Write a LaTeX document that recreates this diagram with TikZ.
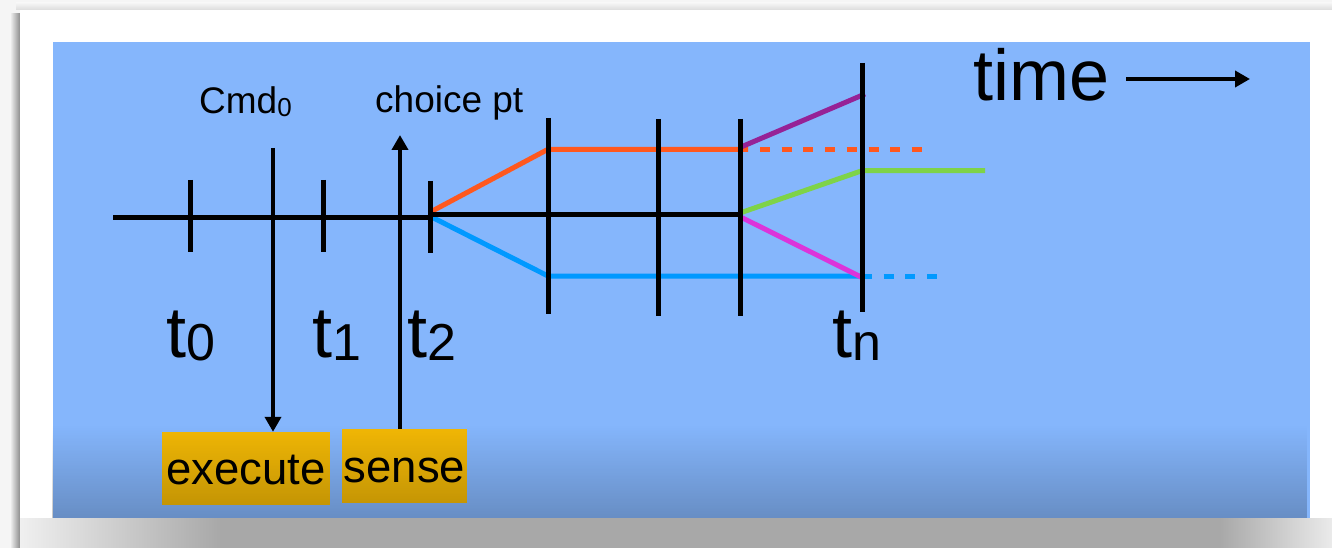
\documentclass[tikz,border=0pt]{standalone}
\usepackage{fontspec}
\setmainfont{Liberation Sans}
\usetikzlibrary{fadings,arrows.meta}
\newcommand\myfs[1]{\fontsize{#1}{#1}\selectfont}
\newcommand\tsub[2]{{\myfs{#1}\raisebox{-3pt}{#2}}}
\definecolor{bg}{RGB}{133,182,252}
\definecolor{gold}{RGB}{242,184,6}
\definecolor{cor}{RGB}{255,88,30}
\definecolor{cbl}{RGB}{0,153,255}
\definecolor{cpu}{RGB}{150,34,150}
\definecolor{cgr}{RGB}{126,211,72}
\definecolor{cmg}{RGB}{220,52,218}
\tikzfading[name=fadedown, top color=transparent!100, bottom color=transparent!0]
\begin{document}
\begin{tikzpicture}[x=1pt,y=-1pt,
  blk/.style={line width=5pt, black},
  col/.style={line width=5pt},
  dsh/.style={line width=5pt, dash pattern=on 10pt off 11.7pt},
  lbl/.style={inner sep=0pt, anchor=base west},
  box/.style={fill=gold, inner sep=0pt, text height=32pt, text depth=0pt, font=\myfs{45.5}},
  arr/.style={line width=4.5pt, -{Triangle[length=15pt,width=16pt]}}]
\useasboundingbox (0,0) rectangle (1332,548);
% page background and panel with shadows
\fill[black!4] (0,0) rectangle (1332,548);
\shade[left color=black!4, right color=black!45] (10,14) rectangle (20,548);
\shade[top color=black!4, bottom color=black!14] (16,3) rectangle (1332,10);
\fill[white] (20,10) rectangle (1332,548);
% reflection band under the slide
\shade[left color=black!6, right color=black!34] (20,518) rectangle (220,548);
\fill[black!34] (220,518) rectangle (1220,548);
\shade[left color=black!34, right color=black!8] (1220,518) rectangle (1332,548);
% slide area
\fill[bg] (53,42) rectangle (1310,518);

% coordinates of the timeline
\coordinate (m0) at (113,217);
\coordinate (t2m) at (430,217);
\coordinate (br) at (431,214);
\coordinate (v3m) at (740,214);
\coordinate (a1t) at (190,180); \coordinate (a1b) at (190,252);
\coordinate (a2t) at (323,180); \coordinate (a2b) at (323,252);
\coordinate (a3t) at (430,181); \coordinate (a3b) at (430,253);
\coordinate (v1t) at (548,118); \coordinate (v1b) at (548,314);
\coordinate (v2t) at (658,119); \coordinate (v2b) at (658,316);
\coordinate (v3t) at (740,119); \coordinate (v3b) at (740,316);
\coordinate (vnt) at (862,63);  \coordinate (vnb) at (862,312);
\coordinate (oA) at (431,211.7); \coordinate (oB) at (548,149.3); \coordinate (oC) at (748,149.3);
\coordinate (oD) at (760,149.3); \coordinate (oE) at (923,149.3);
\coordinate (bA) at (431,216.7); \coordinate (bB) at (548,276); \coordinate (bC) at (862,276);
\coordinate (bE) at (937,276);
\coordinate (pA) at (741,147); \coordinate (pB) at (865,94);
\coordinate (gA) at (740,213); \coordinate (gB) at (862,170.7); \coordinate (gC) at (985,170.7);
\coordinate (mA) at (740,216.7); \coordinate (mB) at (862,277.5);
\coordinate (cmdtop) at (273,148);
\coordinate (snsx) at (400,135);
\coordinate (tas) at (1126,79); \coordinate (tae) at (1250,79);

% coloured branches
\draw[col, cor] (oA) -- (oB) -- (oC);
\draw[dsh, cor] (oD) -- (oE);
\draw[col, cbl] (bA) -- (bB) -- (bC);
\draw[dsh, cbl] (bC) -- (bE);
\draw[col, cpu] (pA) -- (pB);
\draw[col, cgr] (gA) -- (gB) -- (gC);
\draw[col, cmg] (mA) -- (mB);

% black timeline
\draw[blk] (m0) -- (t2m);
\draw[blk] (br) -- (v3m);
\foreach \n in {a1,a2,a3,v1,v2,v3,vn} \draw[blk] (\n t) -- (\n b);

% boxes
\node[box, minimum width=168pt, minimum height=73pt] (ex) at (246,468.5) {execute};
\node[box, minimum width=125pt, minimum height=74pt] (se) at (404.5,466) {sense};

% arrows
\draw[arr] (cmdtop) -- (cmdtop |- ex.north);
\draw[arr] (snsx |- se.north) -- (snsx);
\draw[arr] (tas) -- (tae);

% labels
\node[lbl, font=\myfs{37}] (cmd) at (199,114) {Cmd\tsub{26}{0}};
\node[lbl, font=\myfs{37}] (cp) at (375,113) {choice pt};
\node[lbl, font=\myfs{72}] (tm) at (973,101) {time};
\node[lbl, font=\myfs{72}] (l0) at (166,357) {t\tsub{52}{0}};
\node[lbl, font=\myfs{72}] (l1) at (312,357) {t\tsub{52}{1}};
\node[lbl, font=\myfs{72}] (l2) at (407,357) {t\tsub{52}{2}};
\node[lbl, font=\myfs{72}] (ln) at (832,357) {t\tsub{52}{n}};

% darkening reflection at the bottom of the slide
\fill[black, opacity=0.22, path fading=fadedown] (53,425) rectangle (1310,518);
\end{tikzpicture}
\end{document}
